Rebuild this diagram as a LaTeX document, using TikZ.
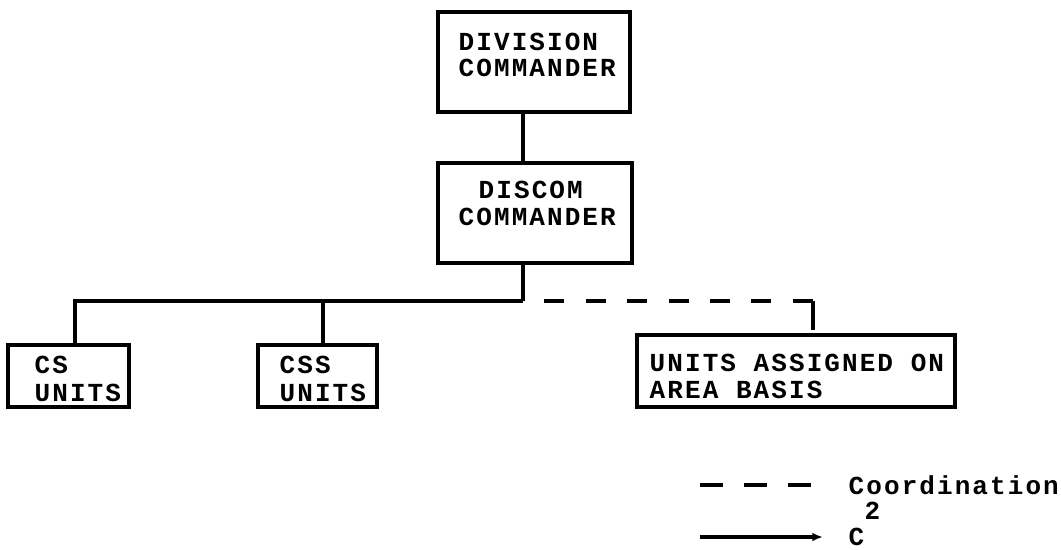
\documentclass[tikz,border=0pt]{standalone}
\usepackage{fontspec}
\usetikzlibrary{arrows.meta}
\newfontfamily\dotfont[LetterSpace=8]{Liberation Mono}
\begin{document}
\begin{tikzpicture}[x=0.75pt,y=-0.75pt,
  line width=2.6pt,
  box/.style={draw,rectangle,inner sep=0pt,line width=2.6pt},
  lbl/.style={inner sep=0pt,anchor=west,font=\dotfont\bfseries\fontsize{19.5pt}{20pt}\selectfont},
  coord/.style={dash pattern=on 15pt off 16.05pt,dash phase=15pt},
  ctrl/.style={-{Latex[length=8pt,width=6.5pt]}}]
\useasboundingbox (0,0) rectangle (1061,550);
% boxes
\node[box,minimum width=144pt,minimum height=75pt] (div) at (534,62) {};
\node[box,minimum width=145.5pt,minimum height=75pt] (discom) at (535,213) {};
\node[box,minimum width=90.75pt,minimum height=46.5pt] (cs) at (68.5,376) {};
\node[box,minimum width=89.25pt,minimum height=46.5pt] (css) at (317.5,376) {};
\node[box,minimum width=238.5pt,minimum height=54pt] (area) at (796,371) {};
% texts
\node[lbl] (t1) at (457,42) {DIVISION};
\node[lbl] (t2) at (457,68) {COMMANDER};
\node[lbl] (t3) at (477,190) {DISCOM};
\node[lbl] (t4) at (457,217) {COMMANDER};
\node[lbl] (t5) at (33,365) {CS};
\node[lbl] (t6) at (33,393) {UNITS};
\node[lbl] (t7) at (278,365) {CSS};
\node[lbl] (t8) at (278,393) {UNITS};
\node[lbl] (t9) at (648,363) {UNITS ASSIGNED ON};
\node[lbl] (t10) at (648,390) {AREA BASIS};
% connectors
\coordinate (j) at (523,301);
\coordinate (jl) at (75,301);
\coordinate (jc) at (323,301);
\coordinate (jr) at (813,301);
\coordinate (jd) at (813,330);
\draw (div.south -| j) -- (discom.north -| j);
\draw (discom.south -| j) -- (j);
\draw (cs.north -| jl) -- (jl) -- (j);
\draw (css.north -| jc) -- (jc);
\draw[coord] (j) -- (jr);
\draw (jr) -- (jd);
% legend
\coordinate (la) at (700,485);
\coordinate (lb) at (820,485);
\coordinate (lc) at (700,537);
\coordinate (ld) at (823,537);
\draw[dash pattern=on 17pt off 16pt] (la) -- (lb);
\node[lbl] (l1) at (847,485) {Coordination};
\node[lbl] (l2) at (863,511) {2};
\draw[ctrl] (lc) -- (ld);
\node[lbl] (l3) at (847,537) {C};
\end{tikzpicture}
\end{document}
